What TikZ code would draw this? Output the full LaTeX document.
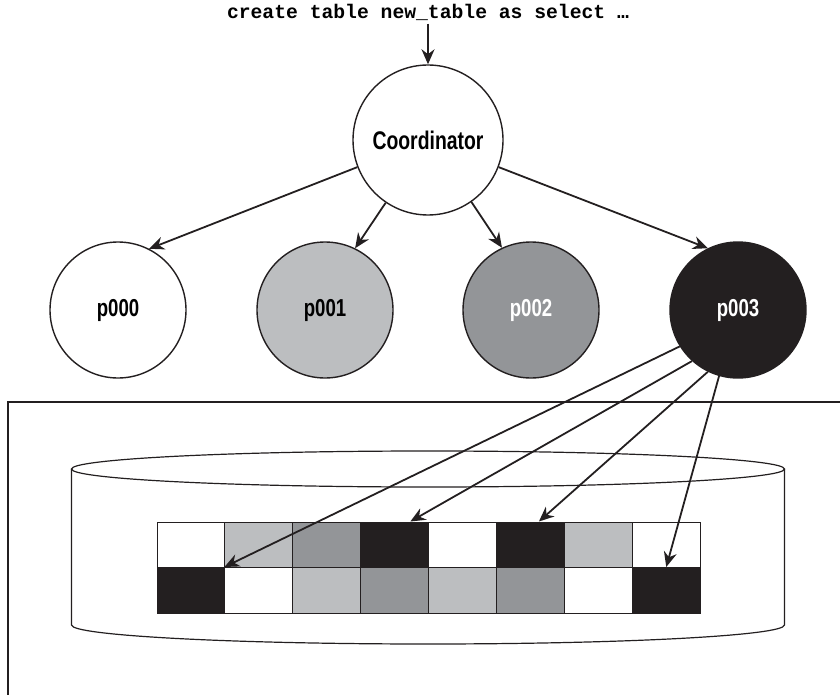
\documentclass[tikz,border=0pt]{standalone}
\usepackage{fontspec}
\setmainfont{Liberation Sans}[FakeStretch=0.82,BoldFeatures={FakeStretch=0.76}]
\setmonofont{Liberation Mono}
\usetikzlibrary{arrows.meta}

\definecolor{lightcell}{RGB}{188,190,192}
\definecolor{midcell}{RGB}{147,149,152}
\definecolor{darkcell}{RGB}{35,31,32}

\tikzset{
  part/.style={circle,draw=darkcell,line width=1.4pt,minimum size=136pt,inner sep=0pt,font=\bfseries\fontsize{24.5}{30}\selectfont},
  cell/.style={draw=darkcell,line width=1pt,minimum width=67.9pt,minimum height=45.5pt,inner sep=0pt},
  feed/.style={darkcell,line width=1.8pt,-{Stealth[length=15pt,width=13pt]}}
}

\begin{document}
\begin{tikzpicture}[x=1pt,y=-1pt]
      \useasboundingbox (0,0) rectangle (840,695);
      % query and coordinator
      \node[font=\ttfamily\bfseries\fontsize{19.7}{22}\selectfont] (query) at (428,12) {create table new\_table as select …};
      \node[part,minimum size=150pt,font=\bfseries\fontsize{25.5}{30}\selectfont] (coord) at (428,140) {Coordinator};
      % parallel slaves
      \node[part,fill=white] (p000) at (118,310) {p000};
      \node[part,fill=lightcell] (p001) at (325,310) {p001};
      \node[part,fill=midcell,text=white] (p002) at (531,310) {p002};
      \node[part,fill=darkcell,text=white] (p003) at (738,310) {p003};
      % tablespace box and cylinder
      \draw[darkcell,line width=1.4pt] (8,695) -- (8,402) -- (840,402);
      \draw[darkcell,line width=1.2pt] (428,469) ellipse [x radius=356.5pt, y radius=18pt];
      \draw[darkcell,line width=1.2pt] (71.5,469) -- (71.5,625) arc[start angle=180,end angle=360,x radius=356.5pt,y radius=19pt] -- (784.5,469);
      % extents
      \foreach \c [count=\i] in {white,lightcell,midcell,darkcell,white,darkcell,lightcell,white}
        \node[cell,fill=\c] (c-1-\i) at ({157+67.9*(\i-0.5)},544.75) {};
      \foreach \c [count=\i] in {darkcell,white,lightcell,midcell,lightcell,midcell,white,darkcell}
        \node[cell,fill=\c] (c-2-\i) at ({157+67.9*(\i-0.5)},590.25) {};
      % arrows
      \draw[feed] (query) -- (coord);
      \draw[feed] (coord.201) -- (p000.63);
      \draw[feed] (coord.236) -- (p001.64);
      \draw[feed] (coord.305) -- (p002.115);
      \draw[feed] (coord.339) -- (p003.116);
      \draw[feed] (p003.212) -- (c-2-2.north west);
      \draw[feed] (p003.228) -- (c-1-4.56);
      \draw[feed] (p003.244) -- (c-1-6.70);
      \draw[feed] (p003.254) -- (c-2-8.north);
    \end{tikzpicture}
\end{document}
